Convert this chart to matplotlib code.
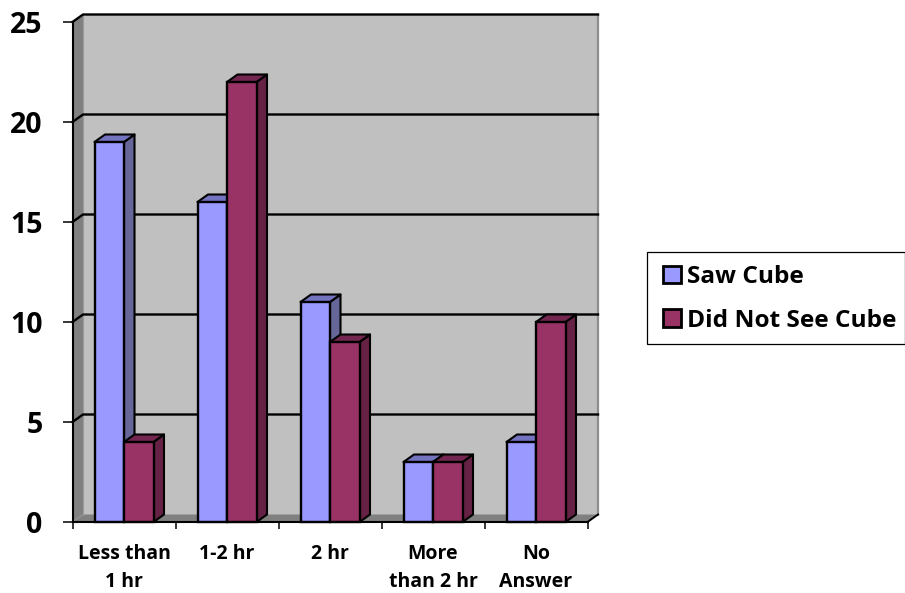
import matplotlib
matplotlib.use("Agg")
import matplotlib.pyplot as plt
from matplotlib.patches import Polygon, Patch, Rectangle
import numpy as np

categories = ["Less than\n1 hr", "1-2 hr", "2 hr", "More\nthan 2 hr", "No\nAnswer"]
saw_cube = [19, 16, 11, 3, 4]
did_not_see = [4, 22, 9, 3, 10]
series_names = ["Saw Cube", "Did Not See Cube"]
y_ticks = [0, 5, 10, 15, 20, 25]

BLUE, BLUE_TOP, BLUE_SIDE = "#9999FF", "#7373C0", "#666699"
RED, RED_TOP, RED_SIDE = "#993366", "#732650", "#662244"
WALL, DARK = "#C0C0C0", "#808080"

plt.rcParams["font.family"] = ["Open Sans", "DejaVu Sans"]
plt.rcParams["font.weight"] = "bold"

W, H = 905, 593
fig = plt.figure(figsize=(W / 100, H / 100), dpi=100)
ax = fig.add_axes([72.5 / W, (H - 522) / H, 515 / W, 500 / H])
n = len(categories)
ax.set_xlim(0, n)
ax.set_ylim(0, 25)

dx = 10.5 / 103
dy = 7.5 / 20
ymax = 25
kw = dict(clip_on=False, joinstyle="round")

ax.add_patch(Polygon([(dx, dy), (n + dx, dy), (n + dx, ymax + dy), (dx, ymax + dy)],
                     fc=WALL, ec="none", zorder=1, **kw))
ax.add_patch(Polygon([(0, 0), (dx, dy), (dx, ymax + dy), (0, ymax)],
                     fc=DARK, ec="none", zorder=1, **kw))
ax.add_patch(Polygon([(0, 0), (n, 0), (n + dx, dy), (dx, dy)],
                     fc=DARK, ec="none", zorder=1, **kw))
ax.plot([n + dx, n + dx], [dy, ymax + dy], color="#8c8c8c", lw=1.6, zorder=1.5, clip_on=False)
ax.plot([n, n + dx], [0, dy], color="black", lw=1.4, zorder=1.6, clip_on=False)

for v in y_ticks:
    if v > 0:
        ax.plot([0, dx, n + dx], [v, v + dy, v + dy], color="black", lw=1.7,
                zorder=2, clip_on=False, solid_joinstyle="round")
ax.plot([dx, dx], [dy, ymax + dy], color="#9a9a9a", lw=0.8, zorder=1.8, clip_on=False)

w = 29.5 / 103
centers = np.arange(n) + 0.5
z = 3
for i, c in enumerate(centers):
    for offs, val, front, top, side in (
        (-w, saw_cube[i], BLUE, BLUE_TOP, BLUE_SIDE),
        (0, did_not_see[i], RED, RED_TOP, RED_SIDE),
    ):
        l, r = c + offs, c + offs + w
        ax.add_patch(Polygon([(r, 0), (r + dx, dy), (r + dx, val + dy), (r, val)],
                             fc=side, ec="black", lw=1.5, zorder=z, **kw))
        ax.add_patch(Polygon([(l, val), (l + dx, val + dy), (r + dx, val + dy), (r, val)],
                             fc=top, ec="black", lw=1.5, zorder=z, **kw))
        ax.bar(l, val, width=w, align="edge", color=front, edgecolor="black",
               linewidth=1.7, zorder=z + 0.5, clip_on=False)
        z += 1

for s in ("top", "right"):
    ax.spines[s].set_visible(False)
for s in ("left", "bottom"):
    ax.spines[s].set_linewidth(1.5)
    ax.spines[s].set_zorder(50)
ax.patch.set_visible(False)

ax.set_yticks(y_ticks)
ax.tick_params(axis="y", length=7.5, width=1.1, pad=14, labelsize=20.5)
ax.set_xticks(np.arange(n + 1))
ax.set_xticklabels([])
ax.tick_params(axis="x", which="major", length=5, width=1.1)
ax.set_xticks(centers, minor=True)
ax.set_xticklabels(categories, minor=True, fontsize=14, linespacing=1.5)
ax.tick_params(axis="x", which="minor", length=0, pad=16)

fig.add_artist(Rectangle((646.5 / W, (H - 344) / H), (W - 647) / W, 92 / H,
                         transform=fig.transFigure, fc="white", ec="black", lw=0.9))
handles = [Patch(fc=BLUE, ec="black", lw=2), Patch(fc=RED, ec="black", lw=2)]
leg = fig.legend(handles, series_names, loc="upper left",
                 bbox_to_anchor=(663 / W, (H - 265) / H), bbox_transform=fig.transFigure,
                 fontsize=17.6, frameon=False, handlelength=0.72, handleheight=0.72,
                 handletextpad=0.25, borderaxespad=0, borderpad=0, labelspacing=0.8)
leg.set_zorder(10)

fig.savefig("out.png", dpi=100)
